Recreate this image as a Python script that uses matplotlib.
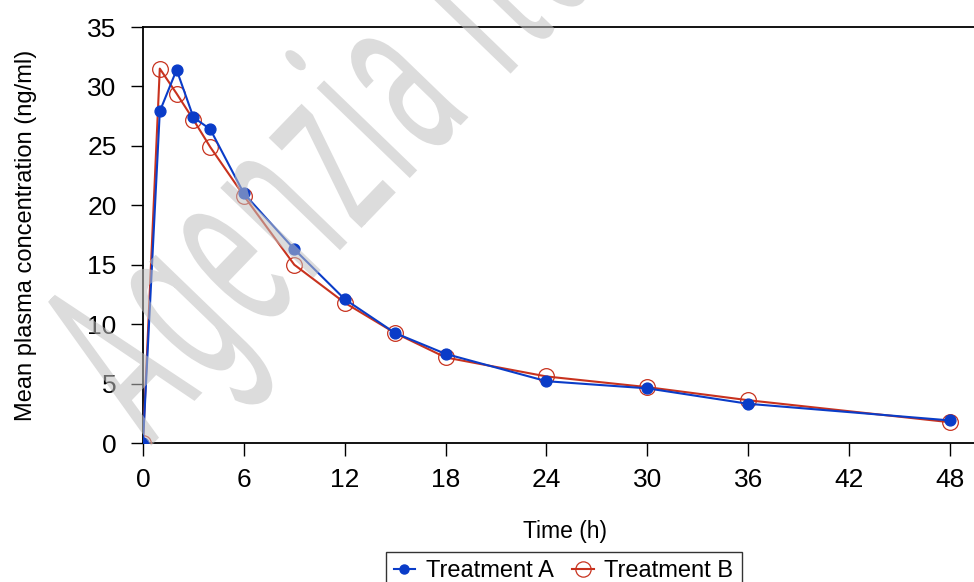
import matplotlib.pyplot as plt
from matplotlib.lines import Line2D
from matplotlib.textpath import TextPath, TextToPath
from matplotlib.patches import PathPatch
from matplotlib.path import Path
from matplotlib.font_manager import FontProperties
from matplotlib.transforms import Affine2D

plt.rcParams['font.family'] = ['Liberation Sans', 'DejaVu Sans']

# Time points (h) and mean concentrations (ng/ml)
time_h = [0, 1, 2, 3, 4, 6, 9, 12, 15, 18, 24, 30, 36, 48]
treatment_a = [0, 27.9, 31.4, 27.4, 26.4, 21.0, 16.3, 12.1, 9.25, 7.5, 5.2, 4.6, 3.3, 1.9]
treatment_b = [0, 31.5, 29.4, 27.2, 24.9, 20.8, 15.0, 11.8, 9.25, 7.2, 5.6, 4.7, 3.6, 1.75]
x_ticks = [0, 6, 12, 18, 24, 30, 36, 42, 48]
y_ticks = [0, 5, 10, 15, 20, 25, 30, 35]

blue = '#0A3CC8'
red = '#C8321E'

fig = plt.figure(figsize=(9.74, 5.82), dpi=100)
ax = fig.add_axes([0.1468, 0.2388, 0.8532, 0.7148])

ax.plot(time_h, treatment_b, color=red, lw=1.5, marker='o', ms=11.3,
        mfc='none', mec=red, mew=0.9, zorder=3)
ax.plot(time_h, treatment_a, color=blue, lw=1.5, marker='o', ms=7.8,
        mfc=blue, mec=blue, zorder=4)

ax.set_xlim(0, 49.43)
ax.set_ylim(0, 35)
ax.set_xticks(x_ticks)
ax.set_yticks(y_ticks)
ax.tick_params(axis='both', labelsize=19, width=1, direction='out')
ax.tick_params(axis='y', length=9, pad=10)
ax.tick_params(axis='x', length=9, pad=9)
ax.spines['right'].set_visible(False)
for s in ['left', 'top', 'bottom']:
    ax.spines[s].set_linewidth(1.3)

ax.set_xlabel('Time (h)', fontsize=16.5)
ax.set_ylabel('Mean plasma concentration (ng/ml)', fontsize=17)
ax.xaxis.set_label_coords(0.508, -0.185)
ax.yaxis.set_label_coords(-0.128, 0.5)

handles = [
    Line2D([], [], color=blue, lw=1.5, marker='o', ms=6.5, mfc=blue, mec=blue),
    Line2D([], [], color=red, lw=1.5, marker='o', ms=11, mfc='none', mec=red, mew=0.9),
]
leg = fig.legend(handles, ['Treatment A', 'Treatment B'], loc='upper center',
                 bbox_to_anchor=(0.5786, 0.0515), ncol=2, fontsize=17,
                 frameon=True, fancybox=False, edgecolor='black',
                 handlelength=0.9, handletextpad=0.45, columnspacing=0.8,
                 borderpad=0.35, borderaxespad=0)
leg.get_frame().set_linewidth(1.0)

# watermark: narrow, tall, letter-spaced text over everything
wm_text = 'Agenzia Italiana del Farmaco'
wm_prop = FontProperties(family='Roboto', size=1)
t2p = TextToPath()
pieces = []
pos = 0.0
for ch in wm_text:
    if ch == ' ':
        pos += 0.25 + 0.06
        continue
    pieces.append(TextPath((pos, 0), ch, size=1, prop=wm_prop))
    w, _, _ = t2p.get_text_width_height_descent(ch, wm_prop, ismath=False)
    pos += w + 0.06
wm = Path.make_compound_path(*pieces)
wm_tr = Affine2D().scale(118, 245).rotate_deg(46).translate(150, 135)
fig.add_artist(PathPatch(wm, transform=wm_tr, fc='#c0c0c0', ec='none',
                         alpha=0.55, zorder=10))

fig.savefig('out.png', dpi=100)
